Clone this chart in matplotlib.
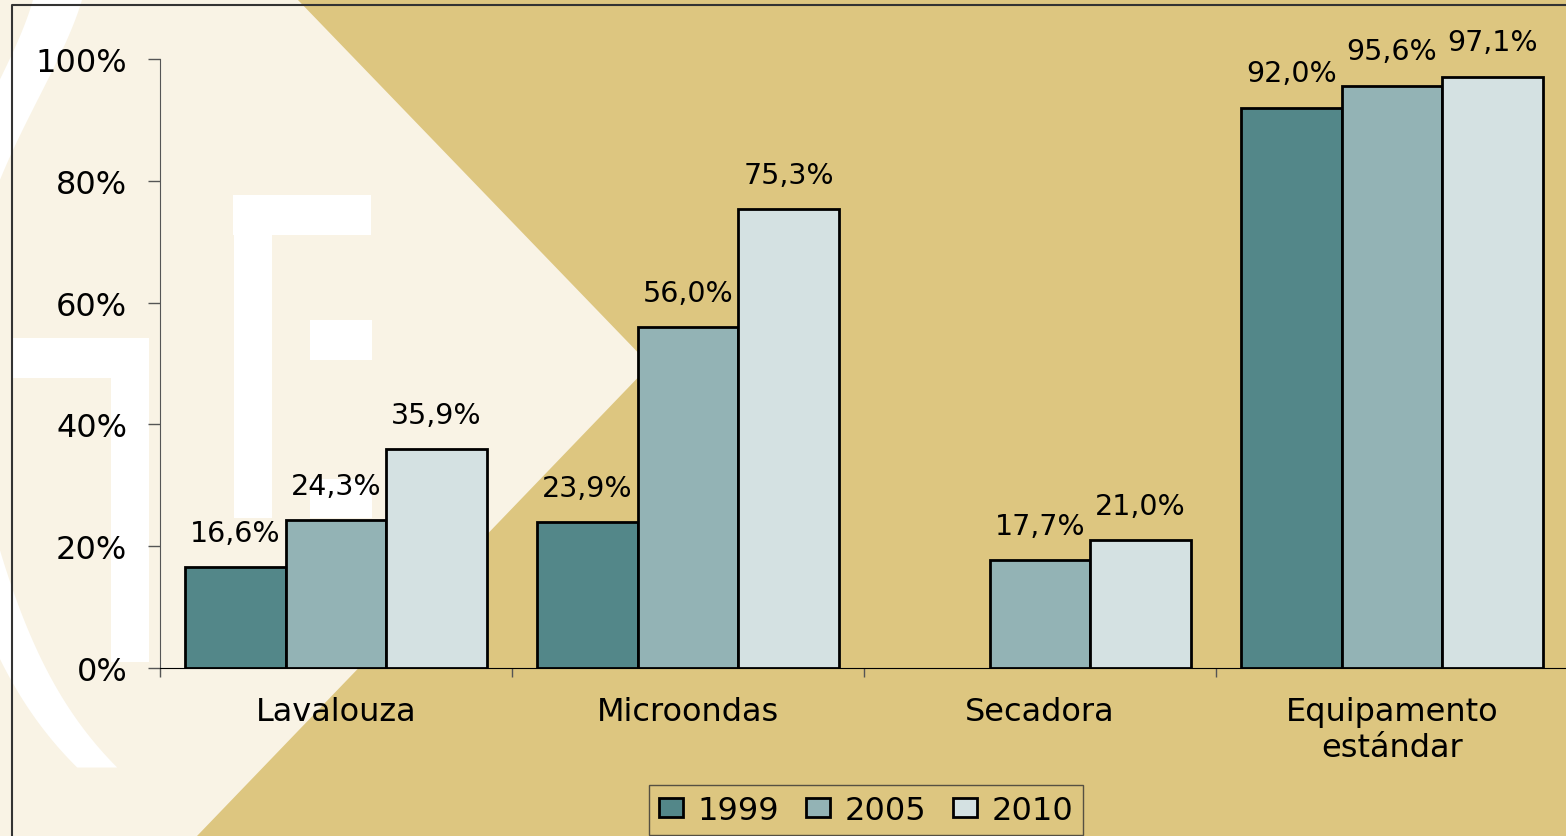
#!/usr/bin/env python3
"""
Equipamento do fogar: gráfico de barras 1999 / 2005 / 2010
"""

import numpy as np
import matplotlib
matplotlib.use('Agg')
import matplotlib.pyplot as plt
from matplotlib.patches import Polygon, Rectangle, Patch

plt.rcParams['font.family'] = ['DejaVu Sans']

# datos
categorias = ['Lavalouza', 'Microondas', 'Secadora', 'Equipamento\nestándar']
anos = ['1999', '2005', '2010']
v1999 = [16.6, 23.9, np.nan, 92.0]
v2005 = [24.3, 56.0, 17.7, 95.6]
v2010 = [35.9, 75.3, 21.0, 97.1]
y_ticks = [0, 20, 40, 60, 80, 100]

cores = ['#538789', '#93B3B5', '#D4E1E2']
CREMA = '#F9F3E5'
OURO = '#DDC680'

W, H = 1566, 837
fig = plt.figure(figsize=(W / 100, H / 100), dpi=100)

# fondo decorativo (en píxeles)
bg = fig.add_axes([0, 0, 1, 1], zorder=0)
bg.set_xlim(0, W)
bg.set_ylim(H, 0)
bg.axis('off')
bg.add_patch(Rectangle((0, 0), W, H, color=OURO, lw=0))
bg.add_patch(Polygon([(0, 0), (297, 0), (650, 366), (197, H), (0, H)],
                     closed=True, color=CREMA, lw=0))
# arco branco "("
ctl_y = [0, 143, 187, 280, 380, 470, 530, 570, 637, 687, 768]
ctl_x = [82, 12, 0, -25, -40, -25, 0, 10, 23, 57, 117]
coef = np.polyfit(ctl_y, ctl_x, 5)
yy = np.linspace(-20, 768, 300)
xr = np.polyval(coef, yy)
xl = xr - (49 - 9 * yy / 768)
bg.fill_betweenx(yy, xl, xr, color='white', lw=0)
# formas brancas
for (x0, y0, x1, y1) in [(233, 196, 371, 236), (234, 196, 272, 519),
                         (310, 321, 372, 361), (310, 480, 372, 519),
                         (13, 339, 149, 379), (111, 339, 149, 663)]:
    bg.add_patch(Rectangle((x0, y0), x1 - x0, y1 - y0, color='white', lw=0))
# marco
bg.plot([12, 12, W], [H, 6, 6], color='#333333', lw=1.5)

# gráfico
ax = fig.add_axes([160 / W, 168 / H, 1408 / W, 609 / H], zorder=1)
ax.patch.set_visible(False)

x = np.arange(len(categorias))
ancho = 1 / 3.5
series = [v1999, v2005, v2010]
for i, (vals, cor, ano) in enumerate(zip(series, cores, anos)):
    pos = x + (i - 1) * ancho
    ax.bar(pos, vals, width=ancho, color=cor, edgecolor='black', linewidth=2, label=ano)
    for px, v in zip(pos, vals):
        if np.isnan(v):
            continue
        ax.annotate(f'{v:.1f}%'.replace('.', ','), (px, v), xytext=(0, 19),
                    textcoords='offset points', ha='center', va='baseline',
                    fontsize=20.5, color='black')

ax.set_xlim(-0.5, 3.5)
ax.set_ylim(0, 100)
ax.set_yticks(y_ticks)
ax.set_yticklabels([f'{t}%' for t in y_ticks], fontsize=23)
ax.tick_params(axis='y', direction='out', length=8.6, width=1, color='#555555', pad=15)

ax.set_xticks([-0.5, 0.5, 1.5, 2.5, 3.5])
ax.set_xticklabels([])
ax.tick_params(axis='x', which='major', direction='out', length=6.5, width=1, color='#555555')
ax.set_xticks(x, minor=True)
ax.set_xticklabels(categorias, minor=True, fontsize=23, linespacing=1.22)
ax.tick_params(axis='x', which='minor', length=0, pad=20)

for s in ['top', 'right']:
    ax.spines[s].set_visible(False)
ax.spines['left'].set_color('#555555')
ax.spines['left'].set_bounds(0, 100)
ax.spines['bottom'].set_color('black')

handles = [Patch(facecolor=c, edgecolor='black', linewidth=2, label=a) for c, a in zip(cores, anos)]
leg = fig.legend(handles=handles, loc='upper center', bbox_to_anchor=(866 / W, 1 - 786 / H),
                 ncol=3, fontsize=23, frameon=True, fancybox=False, borderaxespad=0,
                 handlelength=0.75, handleheight=0.55, handletextpad=0.45,
                 columnspacing=0.85, borderpad=0.3)
leg.get_frame().set_edgecolor('#333333')
leg.get_frame().set_facecolor('none')
leg.get_frame().set_linewidth(1)

fig.savefig('out.png', dpi=100)
